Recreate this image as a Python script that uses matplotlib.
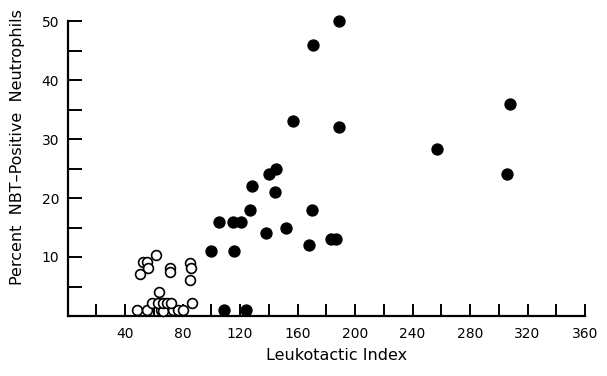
import matplotlib
matplotlib.use("Agg")
import matplotlib.pyplot as plt

# Filled circles
filled_x = [189, 171, 308, 189, 257, 306, 170, 168, 183, 187, 157, 140, 145, 144,
            128, 127, 105.5, 115, 121, 152, 138, 100, 116, 109, 124]
filled_y = [50, 46, 36, 32, 28.3, 24, 18, 12, 13, 13, 33, 24, 25, 21,
            22, 18, 16, 16, 15.9, 15, 14, 11, 11, 1.1, 1.1]

# Open circles
open_x = [50.6, 52.4, 55.2, 55.8, 61.5, 71.5, 71.5, 84.9, 85.6, 85.5,
          63.5, 86.6,
          48.5, 55.5, 65.0, 66.5, 73.2, 77.2, 80.0,
          59.0, 63.0, 66.2, 69.0, 72.0]
open_y = [7.1, 9.2, 9.1, 8.1, 10.3, 8.1, 7.4, 9.0, 8.1, 6.1,
          4.0, 2.2,
          1.0, 1.0, 1.0, 0.8, 1.0, 1.0, 1.0,
          2.2, 2.2, 2.2, 2.2, 2.2]

x_ticks = list(range(20, 361, 20))
x_labels = [str(v) if v % 40 == 0 else "" for v in x_ticks]
y_ticks = list(range(5, 51, 5))
y_labels = [str(v) if v % 10 == 0 else "" for v in y_ticks]

fig = plt.figure(figsize=(6.07, 3.76), dpi=100)
ax = fig.add_axes([67.5 / 607, 1 - 316 / 376, 517.5 / 607, 295 / 376])

ax.scatter(filled_x, filled_y, s=62, facecolor="black", edgecolor="black",
           linewidths=1.0, zorder=3, clip_on=False)
ax.scatter(open_x, open_y, s=50, facecolor="white", edgecolor="black",
           linewidths=1.2, zorder=3, clip_on=False)

ax.set_xlim(0, 360)
ax.set_ylim(0, 50)
ax.spines["top"].set_visible(False)
ax.spines["right"].set_visible(False)
ax.spines["left"].set_linewidth(1.6)
ax.spines["bottom"].set_linewidth(1.6)

ax.set_xticks(x_ticks)
ax.set_xticklabels(x_labels, fontsize=10)
ax.set_yticks(y_ticks)
ax.set_yticklabels(y_labels, fontsize=10)
ax.tick_params(axis="x", direction="in", length=9, width=1.4, pad=8)
ax.tick_params(axis="y", direction="in", length=10, width=1.4, pad=6)

fig.text(337 / 607, 1 - 356 / 376, "Leukotactic Index", fontsize=11.5,
         ha="center", va="center")
fig.text(18 / 607, 1 - 147 / 376, "Percent  NBT\u2013Positive  Neutrophils",
         fontsize=11.5, rotation=90, ha="center", va="center")

fig.savefig("out.png", dpi=100)
